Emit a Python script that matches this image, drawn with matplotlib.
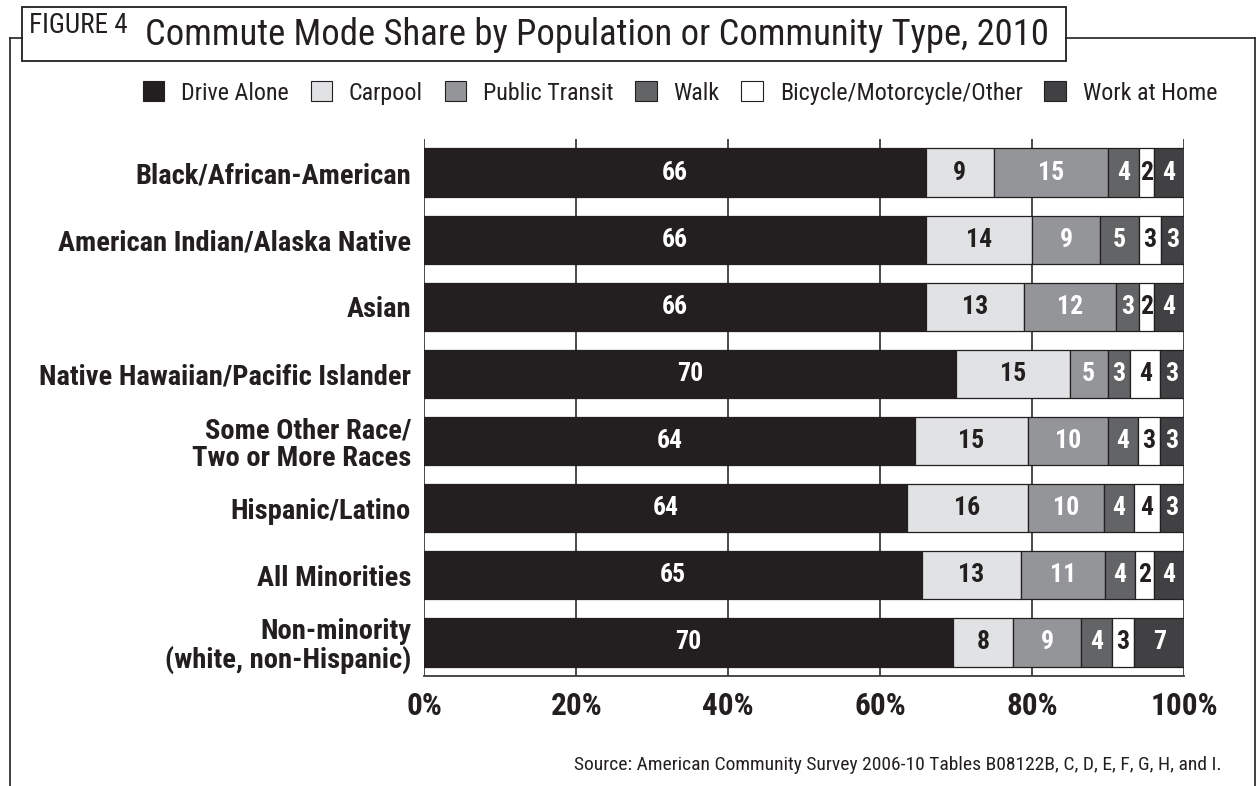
import matplotlib
matplotlib.use("Agg")
import matplotlib.pyplot as plt
from matplotlib import font_manager as fm
from matplotlib.patches import Rectangle, Patch
from matplotlib.lines import Line2D
import numpy as np

# ---------------- data ----------------
categories = [
    "Black/African-American",
    "American Indian/Alaska Native",
    "Asian",
    "Native Hawaiian/Pacific Islander",
    "Some Other Race/\nTwo or More Races",
    "Hispanic/Latino",
    "All Minorities",
    "Non-minority\n(white, non-Hispanic)",
]
series_names = ["Drive Alone", "Carpool", "Public Transit", "Walk",
                "Bicycle/Motorcycle/Other", "Work at Home"]

drive_alone = [66.0, 66.0, 66.0, 70.0, 64.5, 63.5, 65.5, 69.5]
carpool     = [8.9, 14.0, 12.9, 14.9, 14.9, 15.9, 13.0, 8.0]
transit     = [15.1, 8.9, 12.1, 5.0, 10.5, 10.0, 11.0, 8.9]
walk        = [4.0, 5.1, 3.0, 3.0, 4.0, 4.0, 4.0, 4.1]
bicycle     = [2.0, 2.9, 2.0, 3.9, 2.9, 3.4, 2.5, 2.9]
work_home   = [4.0, 3.1, 4.0, 3.2, 3.2, 3.2, 4.0, 6.6]

lab_drive   = [66, 66, 66, 70, 64, 64, 65, 70]
lab_carpool = [9, 14, 13, 15, 15, 16, 13, 8]
lab_transit = [15, 9, 12, 5, 10, 10, 11, 9]
lab_walk    = [4, 5, 3, 3, 4, 4, 4, 4]
lab_bike    = [2, 3, 2, 4, 3, 4, 2, 3]
lab_home    = [4, 3, 4, 3, 3, 3, 4, 7]

xticks = [0, 20, 40, 60, 80, 100]
xtick_labels = ["0%", "20%", "40%", "60%", "80%", "100%"]

title_fig = "FIGURE 4"
title_main = "Commute Mode Share by Population or Community Type, 2010"
source = "Source: American Community Survey 2006-10 Tables B08122B, C, D, E, F, G, H, and I."

# ---------------- style ----------------
colors = ["#231f20", "#e1e2e4", "#939598", "#636466", "#ffffff", "#414042"]
text_colors = ["white", "#231f20", "white", "white", "#231f20", "white"]
EDGE = "#231f20"

names = {f.name: f for f in fm.fontManager.ttflist}
stretch = "normal"
if "Liberation Sans Narrow" in names:
    FAM = "Liberation Sans Narrow"
elif "Roboto Condensed" in names:
    FAM = "Roboto Condensed"
elif any(f.name == "DejaVu Sans" and "condensed" in str(f.stretch) for f in fm.fontManager.ttflist):
    FAM = "DejaVu Sans"
    stretch = "condensed"
else:
    FAM = "Liberation Sans"
plt.rcParams["font.family"] = [FAM, "DejaVu Sans"]
plt.rcParams["font.stretch"] = stretch

W, H = 1257, 786
fig = plt.figure(figsize=(W / 100, H / 100), dpi=100)
fig.patch.set_facecolor("white")

def X(px):
    return px / W

def Y(py):
    return 1 - py / H

# outer frame lines
frame_kw = dict(color=EDGE, lw=1.2, transform=fig.transFigure)
fig.add_artist(Line2D([X(9.5), X(9.5)], [Y(38), Y(786)], **frame_kw))
fig.add_artist(Line2D([X(9.5), X(22)], [Y(38), Y(38)], **frame_kw))
fig.add_artist(Line2D([X(1066), X(1254.5)], [Y(38), Y(38)], **frame_kw))
fig.add_artist(Line2D([X(1254.5), X(1254.5)], [Y(38), Y(786)], **frame_kw))
# title box
fig.add_artist(Rectangle((X(22), Y(61)), X(1066) - X(22), Y(7) - Y(61),
                         transform=fig.transFigure, facecolor="white",
                         edgecolor=EDGE, lw=1.3))
tfig = fig.text(X(29), Y(33), title_fig, fontsize=19.5, color=EDGE, ha="left",
                va="baseline")
tmain = fig.text(X(145), Y(45), title_main, fontsize=24, color=EDGE,
                 ha="left", va="baseline")
# fit title width to reference
fig.canvas.draw()
bb = tmain.get_window_extent()
tmain.set_fontsize(24 * (1050 - 145) / bb.width)

# axes
ax = fig.add_axes([X(424.3), Y(676), X(1184.3) - X(424.3), Y(139) - Y(676)])
y = np.arange(len(categories))
series = [drive_alone, carpool, transit, walk, bicycle, work_home]
labels = [lab_drive, lab_carpool, lab_transit, lab_walk, lab_bike, lab_home]
left = np.zeros(len(categories))
handles = []
for vals, col, tcol, labs, name in zip(series, colors, text_colors, labels, series_names):
    vals = np.array(vals)
    cont = ax.barh(y, vals, left=left, height=0.72, color=col,
                   edgecolor=EDGE, linewidth=0.9, zorder=3)
    ax.bar_label(cont, labels=[str(v) for v in labs], label_type="center",
                 color=tcol, fontsize=18.5, fontweight="bold")
    left += vals
    handles.append(Patch(facecolor=col, edgecolor=EDGE, linewidth=0.8, label=name))

ax.set_xlim(0, 100)
ax.set_ylim(len(categories) - 0.5, -0.5)
ax.set_xticks(xticks)
ax.set_xticklabels(xtick_labels, fontsize=22.5, fontweight="bold", color=EDGE)
ax.set_yticks(y)
ax.set_yticklabels(categories, fontsize=20.5, fontweight="bold", color=EDGE,
                   linespacing=1.05)
ax.tick_params(axis="both", length=0)
ax.tick_params(axis="x", pad=11)
ax.tick_params(axis="y", pad=9.5)
ax.xaxis.grid(True, color="#3a3a3a", lw=1.3, zorder=0)
ax.set_axisbelow(True)
for s in ["top", "left", "right"]:
    ax.spines[s].set_visible(False)
ax.spines["bottom"].set_color("#3a3a3a")
ax.spines["bottom"].set_linewidth(1.3)
ax.set_facecolor("white")

# legend
fig.legend(handles=handles, loc="center", ncol=6, frameon=False,
           bbox_to_anchor=(X(680), Y(93)), fontsize=17.3,
           handlelength=0.9, handleheight=0.9, handletextpad=0.7,
           columnspacing=0.9, labelcolor=EDGE, borderaxespad=0)

fig.text(X(1222), Y(765), source, fontsize=14, color=EDGE, ha="right",
         va="center")

fig.savefig("out.png", dpi=100, facecolor="white")
